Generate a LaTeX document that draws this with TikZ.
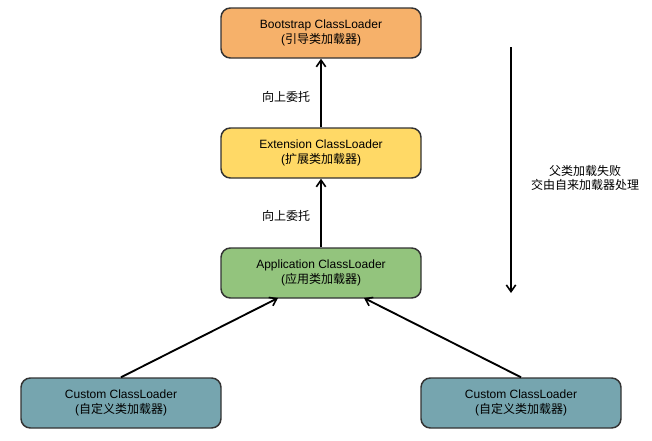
\documentclass[tikz,border=0pt]{standalone}
\usepackage{fontspec}
\setmainfont{Liberation Sans}
\newfontfamily\cjk{Noto Sans CJK SC}
\usetikzlibrary{arrows.meta}
\begin{document}
\begin{tikzpicture}[x=0.75pt,y=-0.75pt,
  box/.style={draw=black!80, line width=1.1pt, rounded corners=7pt, minimum width=200*0.75pt, minimum height=50*0.75pt, align=center, font=\fontsize{9pt}{11pt}\selectfont, inner sep=0pt},
  arr/.style={line width=1.4pt, -{Straight Barb[length=5pt,width=7pt,line width=1.2pt]}},
  lbl/.style={font=\fontsize{9pt}{10.5pt}\selectfont, align=center, inner sep=0pt}]
\useasboundingbox (0,0) rectangle (652,440);
\node[box, fill={rgb,255:red,246;green,177;blue,106}] (boot) at (321,33) {Bootstrap ClassLoader\\({\cjk 引导类加载器})};
\node[box, fill={rgb,255:red,255;green,217;blue,102}] (ext) at (321,153) {Extension ClassLoader\\({\cjk 扩展类加载器})};
\node[box, fill={rgb,255:red,147;green,196;blue,125}] (app) at (321,273) {Application ClassLoader\\({\cjk 应用类加载器})};
\node[box, fill={rgb,255:red,118;green,165;blue,175}] (c1) at (121,403) {Custom ClassLoader\\({\cjk 自定义类加载器})};
\node[box, fill={rgb,255:red,118;green,165;blue,175}] (c2) at (521,403) {Custom ClassLoader\\({\cjk 自定义类加载器})};
\draw[arr] (ext.north) -- (boot.south);
\draw[arr] (app.north) -- (ext.south);
\coordinate (a1) at (278,298);
\coordinate (a2) at (364,298);
\draw[arr] (c1.north) -- (a1);
\draw[arr] (c2.north) -- (a2);
\node[lbl] (l1) at (286,97) {\cjk 向上委托};
\node[lbl] (l2) at (286,216) {\cjk 向上委托};
\coordinate (d1) at (511,47);
\coordinate (d2) at (511,293);
\draw[arr] (d1) -- (d2);
\node[lbl] (l3) at (585,178) {\cjk 父类加载失败\\\cjk 交由自来加载器处理};
\end{tikzpicture}
\end{document}
